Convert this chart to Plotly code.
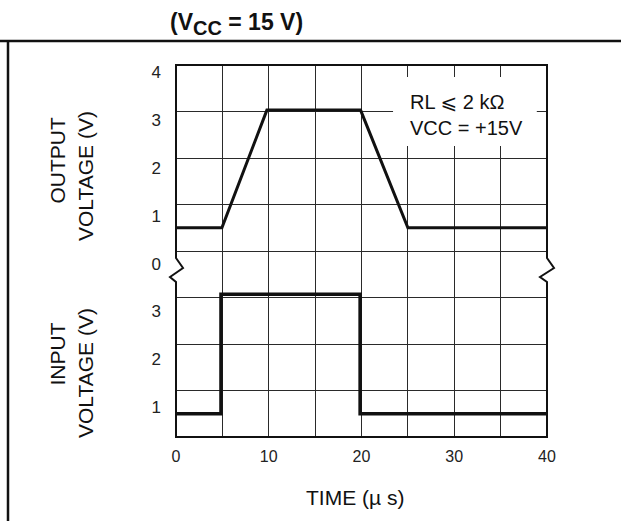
import plotly.graph_objects as go

# ---- data ----
time_out = [0, 4.95, 9.8, 19.9, 25, 40]
v_out = [0.5, 0.5, 3.03, 3.03, 0.5, 0.5]
time_in = [0, 4.85, 4.85, 19.85, 19.85, 40]
v_in = [0.5, 0.5, 3.07, 3.07, 0.5, 0.5]
OUT_OFFSET = 4  # output panel sits on top of the input panel

x_tick_vals = [0, 10, 20, 30, 40]
x_tick_text = ["0", "10", "20", "30", "40"]
x_grid_vals = [5, 10, 15, 20, 25, 30, 35]
y_grid_vals = [1, 2, 3, 4, 5, 6, 7]
y_tick_vals = [1, 2, 3, 4, 5, 6, 7, 8]
y_tick_text = ["1", "2", "3", "0", "1", "2", "3", "4"]

title_text = "(V<sub><span style='font-size:20px'>CC</span></sub> = 15 V)"
note_text = "RL \u2a7d 2 k\u03a9<br>VCC = +15V"
xlabel = "TIME (\u00b5 s)"

# ---- layout geometry (pixels) ----
W, H = 621, 521
L, R, T, B = 176, 547, 65, 437
PW, PH = R - L, B - T

def px(x):
    return (x - L) / PW

def py(y):
    return (B - y) / PH

FONT = "Liberation Sans, Arial, DejaVu Sans, sans-serif"
BLACK = "#111111"

fig = go.Figure()
fig.add_trace(go.Scatter(x=time_out, y=[v + OUT_OFFSET for v in v_out], mode="lines",
                         line=dict(color=BLACK, width=3), hoverinfo="skip", showlegend=False))
fig.add_trace(go.Scatter(x=time_in, y=v_in, mode="lines",
                         line=dict(color=BLACK, width=3.5), hoverinfo="skip",
                         showlegend=False))
# invisible trace to carry the label axes
fig.add_trace(go.Scatter(x=[0], y=[1], mode="markers", marker=dict(opacity=0),
                         xaxis="x2", yaxis="y2", hoverinfo="skip", showlegend=False))

fig.update_layout(
    width=W, height=H, autosize=False,
    margin=dict(l=L, r=W - R, t=T, b=H - B, pad=0),
    paper_bgcolor="white", plot_bgcolor="white",
    font=dict(family=FONT, color=BLACK),
    xaxis=dict(range=[0, 40], tickvals=x_grid_vals, showticklabels=False, showgrid=True,
               gridcolor="#2a2a2a", gridwidth=1.3, zeroline=False, showline=False, ticks=""),
    yaxis=dict(range=[0, 8], tickvals=y_grid_vals, showticklabels=False, showgrid=True,
               gridcolor="#2a2a2a", gridwidth=1.3, zeroline=False, showline=False, ticks=""),
    xaxis2=dict(range=[0, 40], overlaying="x", side="bottom", tickvals=x_tick_vals,
                ticktext=x_tick_text, showgrid=False, zeroline=False, ticks="",
                ticklabelstandoff=8, tickfont=dict(size=16, color="#222")),
    yaxis2=dict(range=[0.372, 8.157], overlaying="y", side="left", tickvals=y_tick_vals,
                ticktext=y_tick_text, showgrid=False, zeroline=False, ticks="",
                ticklabelstandoff=14, tickfont=dict(size=17, color="#222")),
)

shapes = []
# white box behind the note
shapes.append(dict(type="rect", xref="x", yref="y", x0=23.4, x1=38.9, y0=6.26, y1=7.74,
                   fillcolor="white", line=dict(width=0), layer="above"))
# plot border with break marks
pts = [(L, T), (L, 258), (183, 268), (170, 277), (L, 282), (L, B), (R, B), (R, 282),
       (540, 277), (554, 268), (R, 258), (R, T)]
path = "M " + " L ".join(f"{px(a):.5f},{py(b):.5f}" for a, b in pts) + " Z"
shapes.append(dict(type="path", xref="paper", yref="paper", path=path,
                   line=dict(color=BLACK, width=2), layer="above"))
# outer frame lines
shapes.append(dict(type="line", xref="paper", yref="paper", x0=px(0), x1=px(W),
                   y0=py(41), y1=py(41), line=dict(color=BLACK, width=2.5)))
shapes.append(dict(type="line", xref="paper", yref="paper", x0=px(8), x1=px(8),
                   y0=py(41), y1=py(H + 5), line=dict(color=BLACK, width=2.5)))
fig.update_layout(shapes=shapes)

ann = []
ann.append(dict(text=note_text, xref="x", yref="y", x=25, y=6.93, xanchor="left",
                yanchor="middle", showarrow=False, align="left",
                font=dict(size=20, family=FONT, color=BLACK)))
ann.append(dict(text="<b>" + title_text + "</b>", xref="paper", yref="paper",
                x=px(236), y=py(24), xanchor="center", yanchor="middle", showarrow=False,
                font=dict(size=23, family=FONT, color=BLACK)))
ann.append(dict(text=xlabel, xref="paper", yref="paper", x=px(355), y=py(497),
                xanchor="center", yanchor="middle", showarrow=False,
                font=dict(size=21, family=FONT, color=BLACK)))
for txt, cx, cy in [("OUTPUT", 56.5, 160), ("VOLTAGE (V)", 85, 176),
                    ("INPUT", 56.5, 354), ("VOLTAGE (V)", 85, 373)]:
    ann.append(dict(text=txt, xref="paper", yref="paper", x=px(cx), y=py(cy),
                    xanchor="center", yanchor="middle", textangle=-90, showarrow=False,
                    font=dict(size=21, family=FONT, color=BLACK)))
fig.update_layout(annotations=ann)

fig.write_html("out.html", config={"displayModeBar": False},
               post_script="document.body.style.margin='0px';")
